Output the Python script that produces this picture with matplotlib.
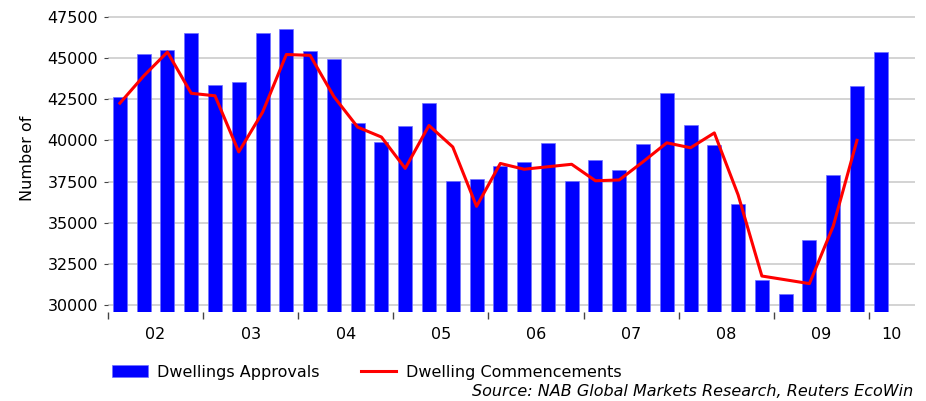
import numpy as np
import matplotlib
matplotlib.use("Agg")
from matplotlib import pyplot as plt

# quarterly data, 2002 Q1 .. 2010 Q1
years = ["02", "03", "04", "05", "06", "07", "08", "09", "10"]
approvals = [42650, 45250, 45480, 46500, 43350, 43550, 46500, 46750,
             45400, 44900, 41050, 39900, 40850, 42250, 37550, 37650,
             38450, 38700, 39850, 37550, 38780, 38200, 39780, 42850,
             40900, 39700, 36150, 31550, 30680, 33950, 37900, 43300,
             45380]
commencements = [42250, 43900, 45350, 42850, 42700, 39300, 41700, 45200,
                 45150, 42650, 40800, 40200, 38300, 40900, 39600, 36000,
                 38600, 38250, 38400, 38550, 37550, 37600, 38700, 39850,
                 39550, 40450, 36700, 31780, 31550, 31320, 34800, 40000]
yticks = [30000, 32500, 35000, 37500, 40000, 42500, 45000, 47500]

plt.rcParams["font.family"] = "DejaVu Sans"
plt.rcParams["font.size"] = 11.5

fig = plt.figure(figsize=(9.26, 4.01), dpi=100)
ax = fig.add_axes([108 / 926, 1 - 312 / 401, (915 - 108) / 926, (312 - 5) / 401])

x = np.arange(len(approvals))
bars = ax.bar(x, approvals, width=0.59, color="#0000ff", edgecolor="#7070ff",
              linewidth=0.5, zorder=2, label="Dwellings Approvals")
line, = ax.plot(np.arange(len(commencements)), commencements, color="#ff0000",
                linewidth=2.2, zorder=3, label="Dwelling Commencements")

ax.set_ylim(29600, 48200)
ax.set_xlim(-0.5, 33.44)
ax.set_yticks(yticks)
ax.set_yticklabels([str(v) for v in yticks])
ax.yaxis.grid(True, color="#c8c8c8", linewidth=1.1, zorder=0)
ax.set_axisbelow(True)
ax.tick_params(axis="y", length=3, width=0.8, color="#444444", pad=4)

# year boundaries as ticks, year labels centred between them
bounds = np.arange(-0.5, len(approvals), 4)
ax.set_xticks(bounds)
ax.set_xticklabels([])
ax.tick_params(axis="x", which="major", length=5, width=1.0, color="#444444")
centres = list(bounds[:-1] + 2) + [(bounds[-1] + 33.44) / 2]
ax.set_xticks(centres, minor=True)
ax.set_xticklabels(years, minor=True)
ax.tick_params(axis="x", which="minor", length=0, pad=11)

for s in ax.spines.values():
    s.set_visible(False)

ax.set_ylabel("Number of", labelpad=9)

fig.legend(handles=[bars, line], loc="center left",
           bbox_to_anchor=(106 / 926, 1 - 372 / 401),
           ncol=2, frameon=False, handlelength=2.2, handleheight=0.75,
           handletextpad=0.6, columnspacing=2.6, borderaxespad=0)
fig.text(913 / 926, 1 - 392 / 401,
         "Source: NAB Global Markets Research, Reuters EcoWin",
         ha="right", va="center", style="italic")

fig.savefig("out.png", dpi=100)
